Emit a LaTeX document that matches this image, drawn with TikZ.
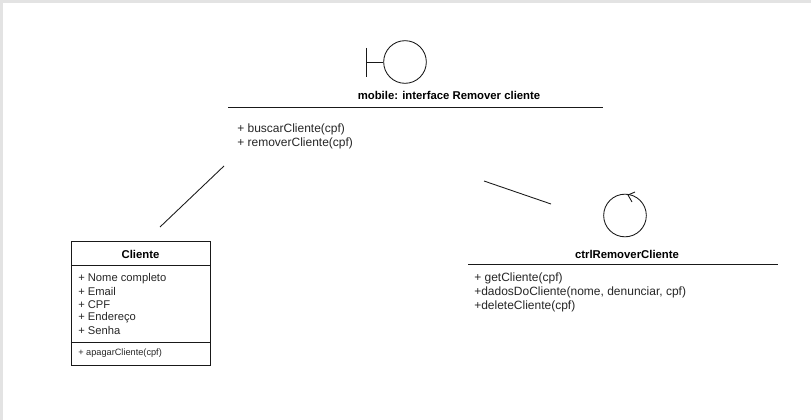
\documentclass[tikz,border=0pt]{standalone}
\usepackage{fontspec}
\setmainfont{Liberation Sans}
\usepackage{tikz}
\usetikzlibrary{arrows}

\tikzset{
	umlline/.style={line width=0.65pt,black!90},
	member/.style={anchor=west,inner sep=0pt,font=\fontsize{9}{11}\selectfont,text=black!85},
	attribute/.style={anchor=west,inner sep=0pt,font=\fontsize{8.4}{10}\selectfont,text=black!85},
	smallmember/.style={anchor=west,inner sep=0pt,font=\fontsize{6.9}{8}\selectfont,text=black!85},
	heading/.style={inner sep=0pt,font=\fontsize{8.5}{10}\selectfont\bfseries},
	stereotype/.style={circle,draw,umlline,inner sep=0pt,minimum size=32pt}
}

\begin{document}
\begin{tikzpicture}[x=0.75pt,y=-0.75pt]
		\useasboundingbox (0,0) rectangle (811,420);
		\fill [black!11] (0,0) rectangle (811,3);
		\fill [black!11] (0,0) rectangle (3,420);
		
		% interface
		\node [stereotype] (boundary) at (405,62) {};
		\coordinate (barTop) at (366,48);
		\coordinate (barBottom) at (366,77);
		\coordinate (barMid) at (366,62);
		\draw [umlline] (barTop) -- (barBottom);
		\draw [umlline] (barMid) -- (boundary);
		\node [heading] (interfaceTitle) at (449,95) {mobile: interface Remover cliente};
		\coordinate (interfaceL) at (228,107);
		\coordinate (interfaceR) at (603,107);
		\draw [umlline] (interfaceL) -- (interfaceR);
		\node [member] (buscar) at (237,129.5) {+ buscarCliente(cpf)};
		\node [member] (remover) at (237,143.5) {+ removerCliente(cpf)};
		
		% control
		\node [stereotype] (control) at (625,215.5) {};
		\coordinate (tipA) at (635,192);
		\coordinate (tipB) at (628,195);
		\coordinate (tipC) at (632,202);
		\draw [umlline] (tipA) -- (tipB) -- (tipC);
		\node [heading] (controlTitle) at (627,254) {ctrlRemoverCliente};
		\coordinate (controlL) at (468,264);
		\coordinate (controlR) at (778,264);
		\draw [umlline] (controlL) -- (controlR);
		\node [member] (getCliente) at (474,278) {+ getCliente(cpf)};
		\node [member] (dados) at (474,292) {+dadosDoCliente(nome, denunciar, cpf)};
		\node [member] (deleteCliente) at (474,306) {+deleteCliente(cpf)};
		
		% class
		\node [draw,umlline,minimum width=104.4pt,minimum height=93pt,inner sep=0pt] (cliente) at (140.8,303) {};
		\node [heading] (clienteTitle) at (140.5,254) {Cliente};
		\coordinate (divA) at (cliente.west |- 0,265);
		\coordinate (divB) at (cliente.east |- 0,265);
		\coordinate (divC) at (cliente.west |- 0,342);
		\coordinate (divD) at (cliente.east |- 0,342);
		\draw [umlline] (divA) -- (divB);
		\draw [umlline] (divC) -- (divD);
		\node [attribute] (nome) at (78,278.5) {+ Nome completo};
		\node [attribute] (email) at (78,291.5) {+ Email};
		\node [attribute] (cpf) at (78,304.5) {+ CPF};
		\node [attribute] (endereco) at (78,317.5) {+ Endereço};
		\node [attribute] (senha) at (78,330.5) {+ Senha};
		\node [smallmember] (apagar) at (78,353) {+ apagarCliente(cpf)};
		
		% associations
		\coordinate (assocA) at (224,166);
		\coordinate (assocB) at (160,227);
		\coordinate (assocC) at (484,181);
		\coordinate (assocD) at (551,204);
		\draw [umlline] (assocA) -- (assocB);
		\draw [umlline] (assocC) -- (assocD);
\end{tikzpicture}
\end{document}
